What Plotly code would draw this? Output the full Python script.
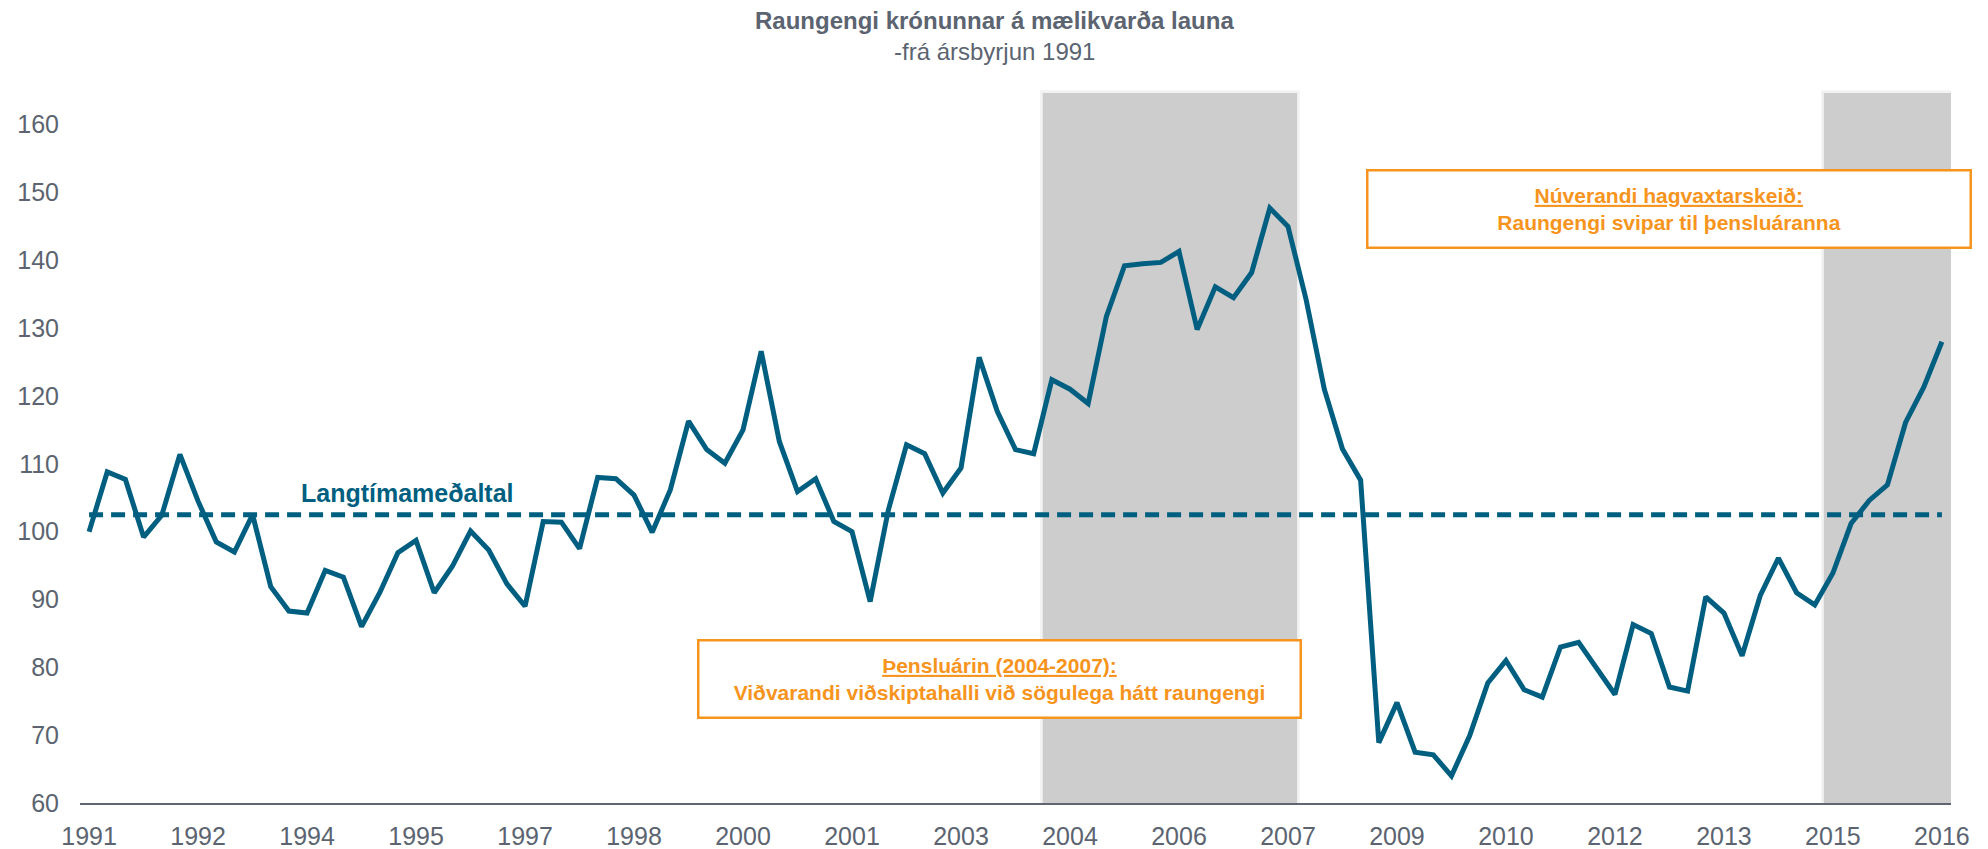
import plotly.graph_objects as go

# ---------------- data ----------------
years = list(range(1991, 2017))
quarters = [f"{y}Q{q}" for y in years for q in range(1, 5)][:103]  # 1991Q1 .. 2016Q3

real_exchange_rate = [
    100.0, 108.8, 107.7, 99.2, 102.4, 111.4, 104.5, 98.5, 97.0, 102.5,
    91.9, 88.3, 88.0, 94.3, 93.3, 86.0, 91.0, 96.9, 98.7, 91.0,
    94.9, 100.1, 97.3, 92.3, 89.0, 101.5, 101.4, 97.5, 108.0, 107.8,
    105.4, 99.9, 106.2, 116.3, 112.1, 110.1, 115.0, 126.6, 113.3, 105.9,
    107.8, 101.5, 100.0, 89.7, 103.2, 112.8, 111.5, 105.7, 109.4, 125.7,
    117.7, 112.1, 111.5, 122.4, 121.0, 118.9, 131.7, 139.2, 139.5, 139.7,
    141.3, 129.8, 136.1, 134.5, 138.2, 147.7, 145.0, 134.2, 121.0, 112.2,
    107.6, 68.9, 74.8, 67.5, 67.1, 64.0, 69.9, 77.7, 81.0, 76.7,
    75.6, 83.0, 83.7, 79.9, 76.0, 86.3, 85.0, 77.1, 76.5, 90.4,
    88.0, 81.7, 90.6, 96.1, 91.0, 89.2, 93.9, 101.2, 104.6, 106.9,
    116.1, 121.3, 128.0,
]
long_term_average = 102.5

tick_quarters = quarters[::6]
tick_labels = ["1991", "1992", "1994", "1995", "1997", "1998", "2000", "2001", "2003",
               "2004", "2006", "2007", "2009", "2010", "2012", "2013", "2015", "2016"]

# shaded periods (first and last quarter)
boom_period = ("2004Q2", "2007Q3")
current_period = ("2015Q1", "2016Q3")

y_ticks = list(range(60, 161, 10))

# ---------------- layout geometry ----------------
W, H = 1988, 849
ML, MR, MT, MB = 80, 37, 93, 46
PW, PH = W - ML - MR, H - MT - MB


def xp(px):
    return (px - ML) / PW


def yp(py):
    return (H - MB - py) / PH


TEAL = "#005F80"
ORANGE = "#F7941D"
GRAY_TXT = "#5B6470"
FONT = "Liberation Sans, Arial, sans-serif"

fig = go.Figure()

fig.add_trace(go.Scatter(
    x=quarters, y=[long_term_average] * len(quarters), mode="lines",
    line=dict(color=TEAL, width=5, dash="14px,8px"), hoverinfo="skip", showlegend=False))

fig.add_trace(go.Scatter(
    x=quarters, y=real_exchange_rate, mode="lines",
    line=dict(color=TEAL, width=5), showlegend=False))

shapes = []
for start, end in (boom_period, current_period):
    x0 = quarters.index(start) - 0.5
    x1 = quarters.index(end) + 0.5
    shapes.append(dict(type="rect", xref="x", yref="paper", x0=x0 - 0.15, x1=x1 + 0.15,
                       y0=0, y1=1.004, fillcolor="rgba(0,0,0,0.05)", line=dict(width=0),
                       layer="below"))
    shapes.append(dict(type="rect", xref="x", yref="paper", x0=x0, x1=x1, y0=0, y1=1,
                       fillcolor="#CDCDCD", line=dict(width=0), layer="below"))

annotations = [
    dict(xref="paper", yref="paper", x=xp(994), y=yp(21), xanchor="center", yanchor="middle",
         text="<b>Raungengi krónunnar á mælikvarða launa</b>", showarrow=False,
         font=dict(family=FONT, size=24, color=GRAY_TXT)),
    dict(xref="paper", yref="paper", x=xp(994), y=yp(51), xanchor="center", yanchor="middle",
         text="-frá ársbyrjun 1991", showarrow=False,
         font=dict(family=FONT, size=24, color=GRAY_TXT)),
    dict(xref="paper", yref="paper", x=xp(407), y=yp(493), xanchor="center", yanchor="middle",
         text="<b>Langtímameðaltal</b>", showarrow=False,
         font=dict(family=FONT, size=25, color=TEAL)),
    dict(xref="paper", yref="paper", x=xp(999.5), y=yp(679), xanchor="center", yanchor="middle",
         text="<b><u>Þensluárin (2004-2007):</u></b><br><b>Viðvarandi viðskiptahalli við sögulega hátt raungengi</b>",
         showarrow=False, font=dict(family=FONT, size=21, color=ORANGE),
         width=600, height=75, borderpad=0, bordercolor=ORANGE, borderwidth=2.5,
         bgcolor="white", align="center"),
    dict(xref="paper", yref="paper", x=xp(1669), y=yp(209), xanchor="center", yanchor="middle",
         text="<b><u>Núverandi hagvaxtarskeið:</u></b><br><b>Raungengi svipar til þensluáranna</b>",
         showarrow=False, font=dict(family=FONT, size=21, color=ORANGE),
         width=601, height=75, borderpad=0, bordercolor=ORANGE, borderwidth=2.5,
         bgcolor="white", align="center"),
]

fig.update_layout(
    width=W, height=H,
    margin=dict(l=ML, r=MR, t=MT, b=MB, autoexpand=False),
    paper_bgcolor="white", plot_bgcolor="white",
    font=dict(family=FONT, color=GRAY_TXT),
    shapes=shapes, annotations=annotations,
    xaxis=dict(type="category", categoryorder="array", categoryarray=quarters,
               range=[-0.5, len(quarters) - 0.5], automargin=False,
               tickmode="array", tickvals=tick_quarters, ticktext=tick_labels,
               tickfont=dict(family=FONT, size=25, color=GRAY_TXT),
               showgrid=False, zeroline=False, showline=True, linecolor="#5F6772", linewidth=2,
               ticks="", ticklabelstandoff=10),
    yaxis=dict(range=[60, 164.67], tickmode="array", tickvals=y_ticks, automargin=False,
               tickfont=dict(family=FONT, size=25, color=GRAY_TXT),
               showgrid=False, zeroline=False, showline=False, ticks="",
               ticklabelstandoff=20),
    showlegend=False,
)

fig.write_html("out.html", config={"displayModeBar": False},
               post_script="document.body.style.margin='0';document.body.style.overflow='hidden';")
